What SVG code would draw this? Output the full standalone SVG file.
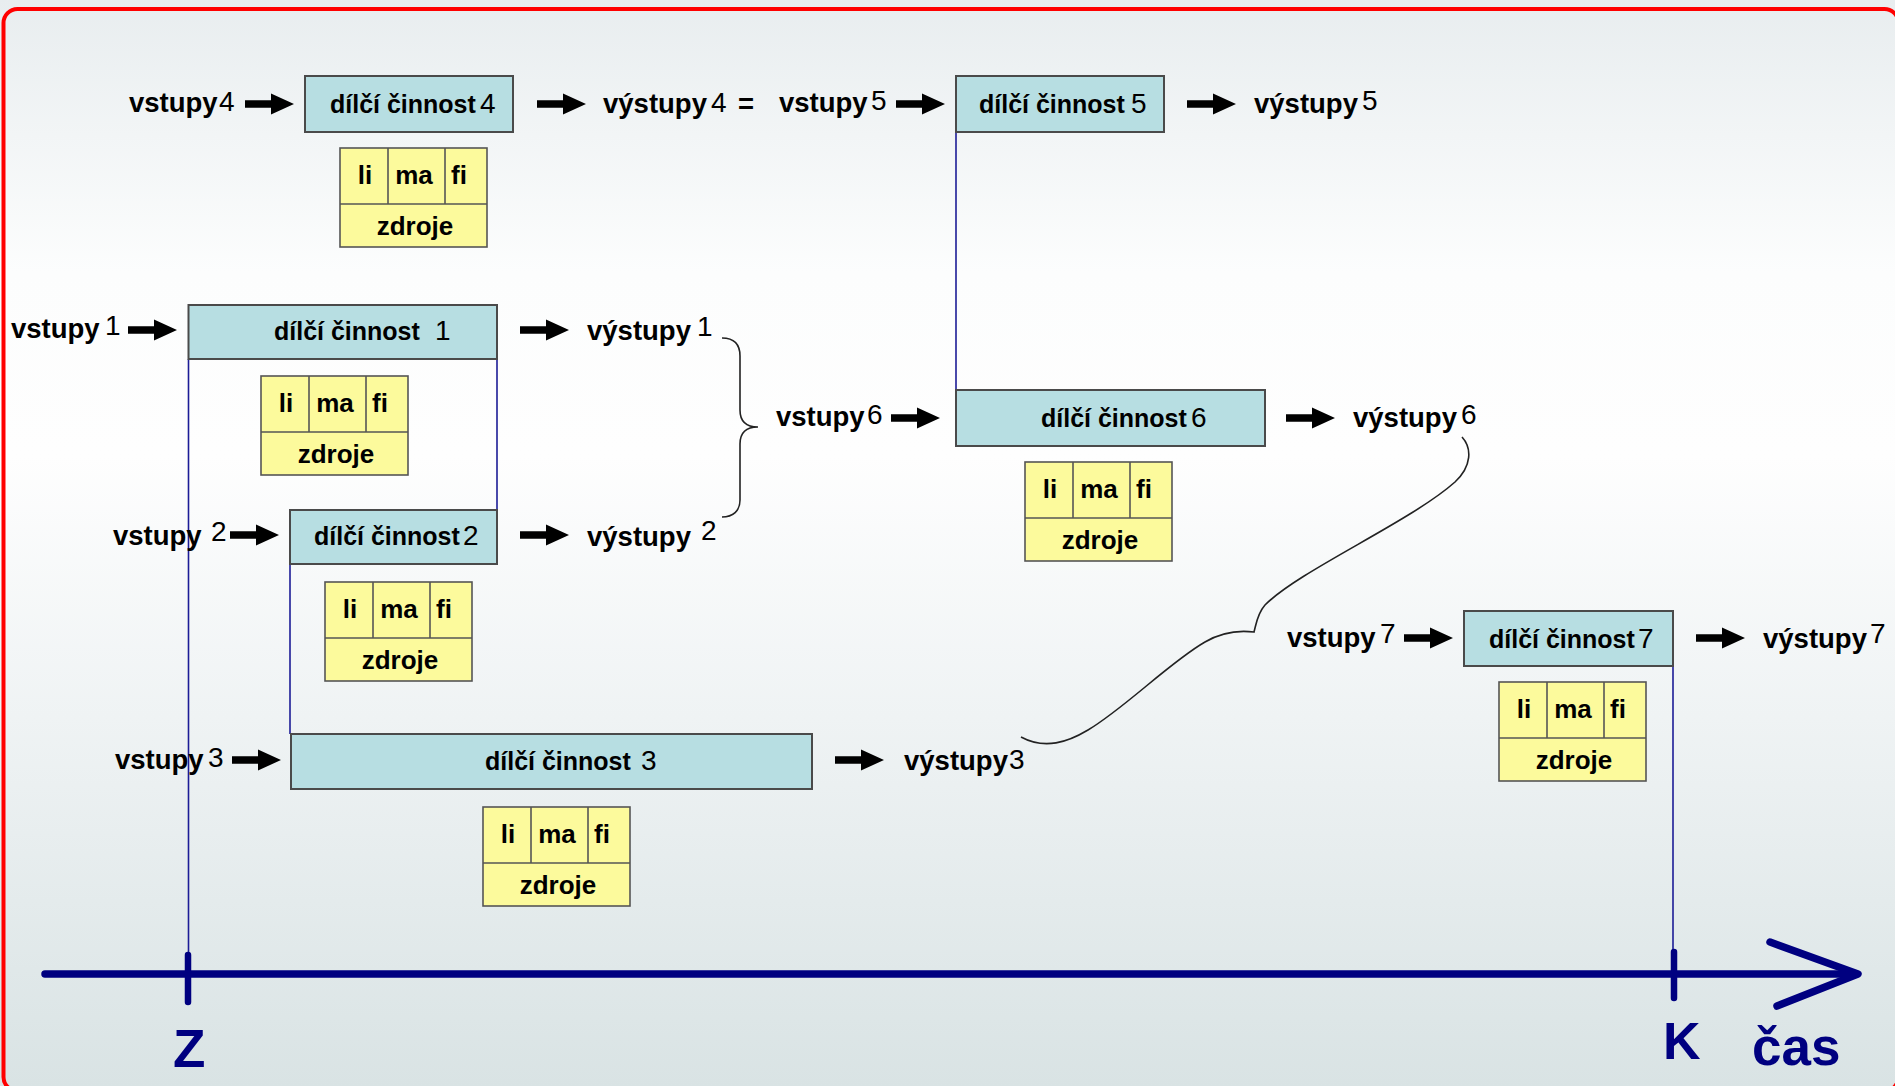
<svg xmlns="http://www.w3.org/2000/svg" xmlns:xlink="http://www.w3.org/1999/xlink" width="1895" height="1086" viewBox="0 0 1895 1086">
<defs>
<linearGradient id="bg" x1="0" y1="0" x2="0" y2="1">
<stop offset="0" stop-color="#e8edef"/>
<stop offset="0.25" stop-color="#fcfdfd"/>
<stop offset="0.42" stop-color="#fefefe"/>
<stop offset="0.66" stop-color="#eff3f4"/>
<stop offset="1" stop-color="#d9e3e4"/>
</linearGradient>
<path id="arr" d="M0,-3.8 H26 V-10.5 L49,0 L26,10.5 V3.8 H0 Z"/>
<g id="res">
<rect x="0" y="0" width="147" height="99" class="resbox"/>
<line x1="0" y1="56" x2="147" y2="56" class="resln"/>
<line x1="48" y1="0" x2="48" y2="56" class="resln"/>
<line x1="105" y1="0" x2="105" y2="56" class="resln"/>
<text x="25" y="36" class="rt">li</text>
<text x="74" y="36" class="rt">ma</text>
<text x="119" y="36" class="rt">fi</text>
<text x="75" y="87" class="rt" font-size="28">zdroje</text>
</g>
<style>
.box{fill:#b7dee2;stroke:#4a4a4a;stroke-width:2}
.resbox{fill:#fcfa9c;stroke:#555;stroke-width:1.6}
.resln{stroke:#555;stroke-width:1.6}
.rt{font-family:"Liberation Sans",Arial,sans-serif;font-weight:bold;font-size:26px;fill:#000;text-anchor:middle}
.bt{font-family:"Liberation Sans",Arial,sans-serif;font-weight:bold;font-size:25px;fill:#000}
.lb{font-family:"Liberation Sans",Arial,sans-serif;font-weight:bold;font-size:27.5px;fill:#000}
.d{font-weight:normal;font-size:28px}
.arrow{fill:#000}
.vl{stroke:#1c1c96;stroke-width:1.6;fill:none}
.brace{stroke:#222;stroke-width:1.6;fill:none}
.ax{stroke:#000080;stroke-width:7.5;stroke-linecap:round;stroke-linejoin:round;fill:none}
.tick{stroke:#000080;stroke-width:6.5;stroke-linecap:round}
.axt{font-family:"Liberation Sans",Arial,sans-serif;font-weight:bold;fill:#000080}
</style>
</defs>

<rect x="0" y="0" width="1895" height="1086" fill="url(#bg)"/>
<rect x="3.5" y="9" width="1895" height="1082" rx="14" ry="14" fill="none" stroke="#ff0000" stroke-width="4"/>

<g id="connectors">
<line class="vl" x1="188.5" y1="359" x2="188.5" y2="974"/>
<line class="vl" x1="497" y1="359" x2="497" y2="510"/>
<line class="vl" x1="290" y1="564" x2="290" y2="734"/>
<line class="vl" x1="956" y1="132" x2="956" y2="390"/>
<line class="vl" x1="1673" y1="666" x2="1673" y2="974"/>
<path class="brace" d="M722,338 C733,338 740,343 740,356 L740,410 C740,421 746,427 758,427 C746,427 740,433 740,444 L740,500 C740,511 733,517 722,517"/>
<path class="brace" d="M1462,437 C1472,448 1472,466 1455,482 C1410,522 1300,570 1265,605 C1257,614 1256,625 1254,632 C1238,630 1222,632 1205,642 C1170,662 1125,708 1088,730 C1068,742 1045,750 1021,737"/>
<use xlink:href="#arr" class="arrow" x="245" y="104"/>
<use xlink:href="#arr" class="arrow" x="537" y="104"/>
<use xlink:href="#arr" class="arrow" x="896" y="104"/>
<use xlink:href="#arr" class="arrow" x="1187" y="104"/>
<use xlink:href="#arr" class="arrow" x="128" y="330"/>
<use xlink:href="#arr" class="arrow" x="520" y="330"/>
<use xlink:href="#arr" class="arrow" x="230" y="535"/>
<use xlink:href="#arr" class="arrow" x="520" y="535"/>
<use xlink:href="#arr" class="arrow" x="232" y="760"/>
<use xlink:href="#arr" class="arrow" x="835" y="760"/>
<use xlink:href="#arr" class="arrow" x="891" y="418"/>
<use xlink:href="#arr" class="arrow" x="1286" y="418"/>
<use xlink:href="#arr" class="arrow" x="1404" y="638"/>
<use xlink:href="#arr" class="arrow" x="1696" y="638"/>
</g>

<g id="cinnost4">
<rect class="box" x="305" y="76" width="208" height="56"/>
<text class="bt" x="330" y="113">dílčí činnost <tspan class="d" x="480">4</tspan></text>
<use xlink:href="#res" x="340" y="148"/>
</g>
<g id="cinnost5">
<rect class="box" x="956" y="76" width="208" height="56"/>
<text class="bt" x="979" y="113">dílčí činnost <tspan class="d" x="1131">5</tspan></text>
</g>
<g id="cinnost1">
<rect class="box" x="188.5" y="305" width="308.5" height="54"/>
<text class="bt" x="274" y="340">dílčí činnost <tspan class="d" x="435">1</tspan></text>
<use xlink:href="#res" x="261" y="376"/>
</g>
<g id="cinnost2">
<rect class="box" x="290" y="510" width="207" height="54"/>
<text class="bt" x="314" y="545">dílčí činnost<tspan class="d" x="463">2</tspan></text>
<use xlink:href="#res" x="325" y="582"/>
</g>
<g id="cinnost3">
<rect class="box" x="291" y="734" width="521" height="55"/>
<text class="bt" x="485" y="770">dílčí činnost <tspan class="d" x="641">3</tspan></text>
<use xlink:href="#res" x="483" y="807"/>
</g>
<g id="cinnost6">
<rect class="box" x="956" y="390" width="309" height="56"/>
<text class="bt" x="1041" y="427">dílčí činnost <tspan class="d" x="1191">6</tspan></text>
<use xlink:href="#res" x="1025" y="462"/>
</g>
<g id="cinnost7">
<rect class="box" x="1464" y="611" width="209" height="55"/>
<text class="bt" x="1489" y="648">dílčí činnost<tspan class="d" x="1638">7</tspan></text>
<use xlink:href="#res" x="1499" y="682"/>
</g>

<g id="vstupy4"><text class="lb" x="129" y="112">vstupy<tspan class="d" x="219" y="111">4</tspan></text></g>
<g id="vystupy4"><text class="lb" x="603" y="113">výstupy<tspan class="d" x="711" y="112">4</tspan><tspan x="738" y="113">=</tspan></text></g>
<g id="vstupy5"><text class="lb" x="779" y="112">vstupy<tspan class="d" x="871" y="110">5</tspan></text></g>
<g id="vystupy5"><text class="lb" x="1254" y="113">výstupy<tspan class="d" x="1362" y="110">5</tspan></text></g>
<g id="vstupy1"><text class="lb" x="11" y="338">vstupy<tspan class="d" x="105" y="335">1</tspan></text></g>
<g id="vystupy1"><text class="lb" x="587" y="340">výstupy<tspan class="d" x="697" y="336">1</tspan></text></g>
<g id="vstupy2"><text class="lb" x="113" y="545">vstupy <tspan class="d" x="211" y="541">2</tspan></text></g>
<g id="vystupy2"><text class="lb" x="587" y="546">výstupy <tspan class="d" x="701" y="540">2</tspan></text></g>
<g id="vstupy3"><text class="lb" x="115" y="769">vstupy<tspan class="d" x="208" y="767">3</tspan></text></g>
<g id="vystupy3"><text class="lb" x="904" y="770">výstupy<tspan class="d" x="1009" y="769">3</tspan></text></g>
<g id="vstupy6"><text class="lb" x="776" y="426">vstupy<tspan class="d" x="867" y="424">6</tspan></text></g>
<g id="vystupy6"><text class="lb" x="1353" y="427">výstupy<tspan class="d" x="1461" y="424">6</tspan></text></g>
<g id="vstupy7"><text class="lb" x="1287" y="647">vstupy<tspan class="d" x="1380" y="643">7</tspan></text></g>
<g id="vystupy7"><text class="lb" x="1763" y="648">výstupy<tspan class="d" x="1870" y="643">7</tspan></text></g>

<g id="axis">
<line class="ax" x1="45" y1="974" x2="1855" y2="974"/>
<polyline class="ax" points="1770,942 1858,974 1777,1006"/>
<line class="tick" x1="188" y1="955" x2="188" y2="1002"/>
<line class="tick" x1="1674" y1="952" x2="1674" y2="998"/>
<text class="axt" x="173" y="1067" font-size="53">Z</text>
<text class="axt" x="1663" y="1059" font-size="52">K</text>
<text class="axt" x="1752" y="1065" font-size="53">čas</text>
</g>
</svg>
